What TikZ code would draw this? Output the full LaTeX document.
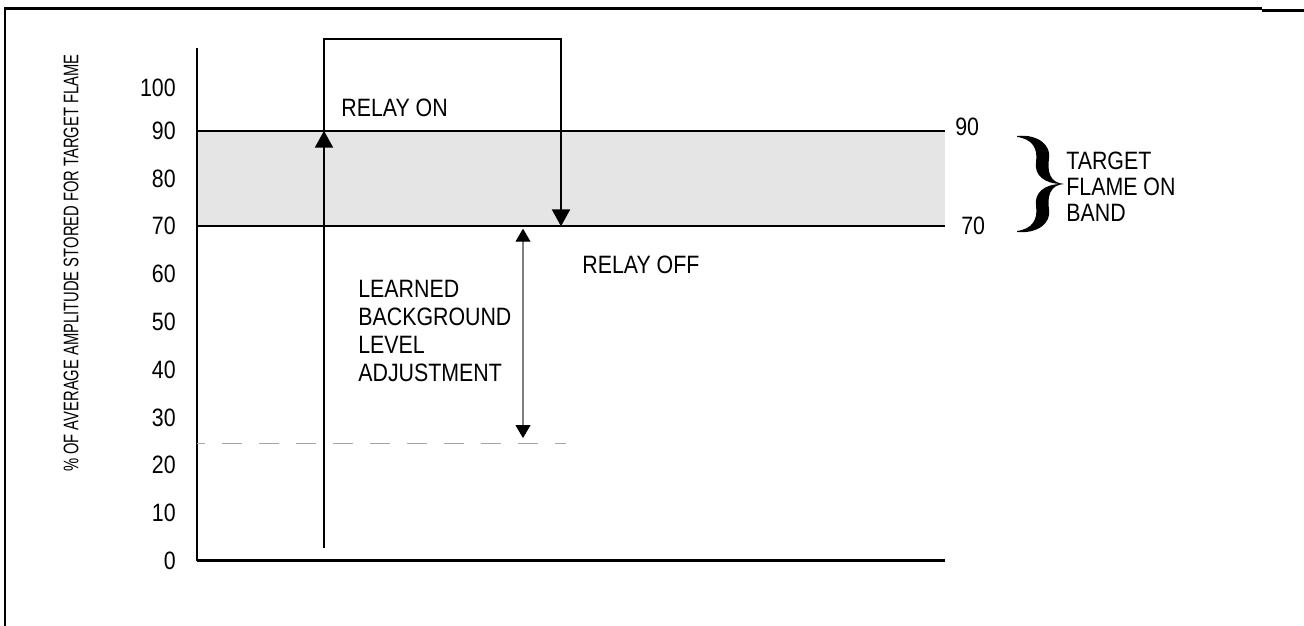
\documentclass[tikz,border=0pt]{standalone}
\usepackage{fontspec}
\setmainfont{Liberation Sans}[FakeStretch=0.85]
\newfontfamily\axisfont{Liberation Sans}[FakeStretch=0.70]
\usepackage{tikz}
\usetikzlibrary{arrows.meta}
\tikzset{>={Triangle[length=0.34cm,width=0.36cm]}}
\tikzset{lbl/.style={inner sep=0pt,font=\fontsize{14.3}{15.9}\selectfont}}
\tikzset{bandline/.style={line width=1.3pt}}
\begin{document}
\begin{tikzpicture}[x=0.02cm,y=0.0956cm]
    \useasboundingbox (-197,-13.6) rectangle (1107,117.36);
    % frame
    \draw[line width=1.7pt] (-192,-13.6) -- (-192,115.48) -- (1065,115.48);
    \draw[line width=1.7pt] (1065,115.17) -- (1107,115.17);
    % band
    \fill[black!10] (0,70) rectangle (748,90);
    \draw[bandline] (0,90) -- (748,90);
    \draw[bandline] (0,70) -- (748,70);
    % axes
    \draw[line width=1.3pt] (0,107.3) -- (0,0);
    \draw[line width=1.6pt] (0,0) -- (748,0);
    \foreach \v in {0,10,...,90} {
      \node[lbl,anchor=east] (t\v) at (-21,\v) {\v};
    }
    \node[lbl,anchor=east] (t100) at (-21,99) {100};
    \node[inner sep=0pt,rotate=90,font=\axisfont\fontsize{12}{14}\selectfont] (ylab) at (-126,62.3) {\% OF AVERAGE AMPLITUDE STORED FOR TARGET FLAME};
    % relay
    \coordinate (start) at (127,2.7);
    \coordinate (on) at (127,90);
    \coordinate (off) at (364,70);
    \draw[bandline,->] (start) -- (on);
    \draw[bandline,->] (on) -- (127,109.2) -- (364,109.2) -- (off);
    \node[lbl,anchor=west] (relayon) at (144,94.8) {RELAY ON};
    \node[lbl,anchor=west] (relayoff) at (385,61.9) {RELAY OFF};
    % background adjustment
    \coordinate (bgtop) at (326,69.5);
    \coordinate (bgbot) at (326,25.7);
    \draw[gray!70,line width=0.6pt,dash pattern=on 0.4cm off 0.34cm,dash phase=0.24cm] (0,24.5) -- (369,24.5);
    \draw[gray,line width=0.6pt,{Triangle[length=0.26cm,width=0.3cm,color=black]}-{Triangle[length=0.26cm,width=0.3cm,color=black]}] (bgtop) -- (bgbot);
    \node[lbl,anchor=north west,align=left] (learned) at (161,58.8) {LEARNED\\BACKGROUND\\LEVEL\\ADJUSTMENT};
    % right side
    \node[lbl,anchor=west] (r90) at (758,90.8) {90};
    \node[lbl,anchor=west] (r70) at (764,70.1) {70};
    \begin{scope}[shift={(-3.94cm,11.22cm)},x=0.02cm,y=-0.02cm]
      \fill (1017,136) .. controls (1039,134) and (1051,146) .. (1049,158)
        .. controls (1047,172) and (1050,183) .. (1064,184)
        .. controls (1050,185) and (1047,196) .. (1049,210)
        .. controls (1051,222) and (1039,234) .. (1017,232)
        -- (1017,231) .. controls (1032,229) and (1038,220) .. (1036,206)
        .. controls (1034,193) and (1044,184) .. (1062,184)
        .. controls (1044,184) and (1034,175) .. (1036,162)
        .. controls (1038,148) and (1032,139) .. (1017,137) -- cycle;
    \end{scope}
    \node[lbl,anchor=north west,align=left,font=\fontsize{14.3}{14.8}\selectfont] (target) at (869,85.6) {TARGET\\FLAME ON\\BAND};
\end{tikzpicture}
\end{document}
